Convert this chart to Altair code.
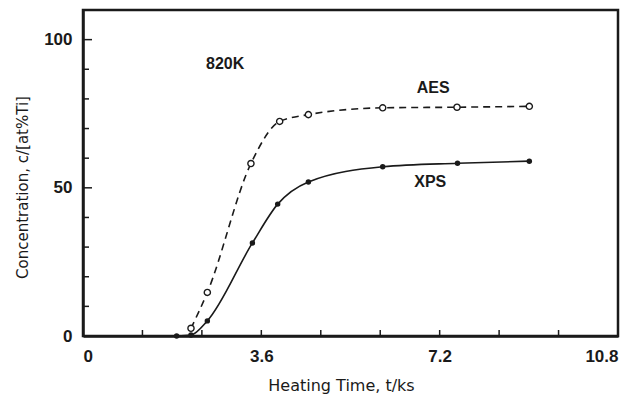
import altair as alt
import pandas as pd

# ---- data ----
aes_t = [2.18, 2.51, 3.39, 3.97, 4.55, 6.05, 7.55, 9.01]
aes_c = [2.6, 14.7, 58.2, 72.4, 74.7, 77.0, 77.2, 77.5]
xps_t = [1.89, 2.18, 2.51, 3.42, 3.93, 4.55, 6.05, 7.56, 9.01]
xps_c = [0.0, 0.3, 5.1, 31.4, 44.5, 52.0, 57.1, 58.3, 59.0]

x_ticks = [0, 3.6, 7.2, 10.8]
y_ticks = [0, 50, 100]
x_minor = [1.2, 2.4, 3.6, 4.8, 6.0, 7.2, 8.4, 9.6]
y_minor = [10, 20, 30, 40, 60, 70, 80, 90]
y_major = [50, 100]

labels = ["820K", "AES", "XPS"]
label_t = [2.87, 7.07, 7.01]
label_c = [91.8, 83.8, 52.0]

aes = pd.DataFrame({"t": aes_t, "c": aes_c})
xps = pd.DataFrame({"t": xps_t, "c": xps_c})
ann = pd.DataFrame({"t": label_t, "c": label_c, "label": labels})
xm = pd.DataFrame({"t": x_minor})
ym = pd.DataFrame({"c": y_minor})
yM = pd.DataFrame({"c": y_major})

FONT = "Liberation Sans"
TFONT = "DejaVu Sans"

xscale = alt.Scale(domain=[0, 10.8], nice=False, zero=False)
yscale = alt.Scale(domain=[0, 110], nice=False)

X = alt.X("t:Q", scale=xscale,
          axis=alt.Axis(values=x_ticks, format=".3~g", title="Heating Time, t/ks",
                        ticks=False, grid=False, labelPadding=12, titleY=49,
                        titleBaseline="middle", titleX=258, titleFontSize=16))
Y = alt.Y("c:Q", scale=yscale,
          axis=alt.Axis(values=y_ticks, title="Concentration, c/[at%Ti]", ticks=False,
                        grid=False, labelPadding=11, titleX=-61, titleY=177,
                        titleAngle=-90, titleAlign="center", titleBaseline="middle",
                        titleFontSize=15))

aes_line = alt.Chart(aes).mark_line(
    color="#1a1a1a", strokeWidth=1.6, strokeDash=[7, 5], interpolate="monotone"
).encode(x=X, y=Y)
xps_line = alt.Chart(xps).mark_line(
    color="#1a1a1a", strokeWidth=1.6, interpolate="monotone"
).encode(x=X, y=Y)
aes_pts = alt.Chart(aes).mark_point(
    shape="circle", size=38, fill="white", stroke="#1a1a1a", strokeWidth=1.4,
    opacity=1, fillOpacity=1
).encode(x=X, y=Y)
xps_pts = alt.Chart(xps).mark_point(
    shape="circle", size=30, filled=True, color="#1a1a1a", opacity=1
).encode(x=X, y=Y)

xtick = alt.Chart(xm).mark_rule(color="#1a1a1a", strokeWidth=1.5).encode(
    x=alt.X("t:Q", scale=xscale), y=alt.value(326), y2=alt.value(320))
ytick = alt.Chart(ym).mark_rule(color="#1a1a1a", strokeWidth=1.5).encode(
    y=alt.Y("c:Q", scale=yscale), x=alt.value(0), x2=alt.value(6))
ytickM = alt.Chart(yM).mark_rule(color="#1a1a1a", strokeWidth=1.5).encode(
    y=alt.Y("c:Q", scale=yscale), x=alt.value(0), x2=alt.value(9))

text = alt.Chart(ann).mark_text(
    font=FONT, fontSize=16, fontWeight="bold", color="#1a1a1a"
).encode(x=alt.X("t:Q", scale=xscale), y=alt.Y("c:Q", scale=yscale), text="label:N")

chart = alt.layer(
    xtick, ytick, ytickM, aes_line, xps_line, aes_pts, xps_pts, text
).properties(
    width=535, height=326,
    autosize=alt.AutoSizeParams(type="none"),
    padding={"left": 83, "top": 10, "right": 18, "bottom": 69},
    background="white",
).configure_view(
    stroke="#1a1a1a", strokeWidth=2.5
).configure_axis(
    domainColor="#1a1a1a", domainWidth=2.5,
    labelFont=FONT, labelFontSize=17, labelFontWeight="bold", labelColor="#1a1a1a",
    titleFont=TFONT, titleFontWeight="normal", titleColor="#1a1a1a",
)

chart.save("out.html", embed_options={"renderer": "svg", "actions": False})
